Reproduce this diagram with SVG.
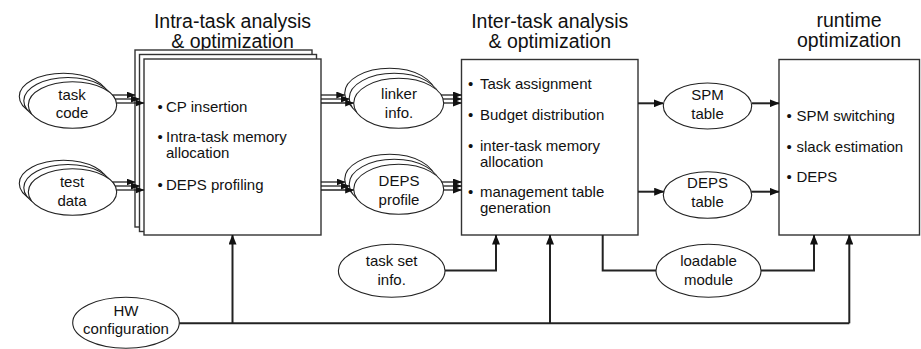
<svg xmlns="http://www.w3.org/2000/svg" width="921" height="349" viewBox="0 0 921 349">
<style>
.box{fill:#fff;stroke:#333;stroke-width:1.4}
.ell{fill:#fff;stroke:#222;stroke-width:1.1}
.t{font-family:"Liberation Sans",Arial,sans-serif;font-size:15px;fill:#111}
.ti{font-family:"Liberation Sans",Arial,sans-serif;font-size:19.5px;fill:#111;text-anchor:middle}
.c{text-anchor:middle}
.conn{fill:none;stroke:#222;stroke-width:2}
.thin{fill:none;stroke:#222;stroke-width:1.3}
</style>
<defs>
<marker id="ah" viewBox="0 0 10 8" refX="9.5" refY="4" markerWidth="10" markerHeight="8" markerUnits="userSpaceOnUse" orient="auto"><path d="M0,0L10,4L0,8z" fill="#111"/></marker>
<marker id="ahs" viewBox="0 0 9 7" refX="8.5" refY="3.5" markerWidth="9" markerHeight="7" markerUnits="userSpaceOnUse" orient="auto"><path d="M0,0L9,3.5L0,7z" fill="#111"/></marker>
</defs>

<g id="intra">
<text class="ti" x="232.5" y="27.5">Intra-task analysis</text>
<text class="ti" x="232.5" y="47.5">&amp; optimization</text>
<rect class="box" x="135" y="50" width="177" height="177"/>
<rect class="box" x="139.5" y="54.5" width="177" height="177"/>
<rect class="box" x="144" y="59" width="177" height="176"/>
<text class="t" x="157.5" y="111.5">•</text><text class="t" x="166" y="111.5">CP insertion</text>
<text class="t" x="157.5" y="142">•</text><text class="t" x="166" y="142">Intra-task memory</text>
<text class="t" x="166" y="158">allocation</text>
<text class="t" x="157.5" y="189.5">•</text><text class="t" x="166" y="189.5">DEPS profiling</text>
</g>

<g id="inter">
<text class="ti" x="549.75" y="27.5">Inter-task analysis</text>
<text class="ti" x="549.75" y="47.5">&amp; optimization</text>
<rect class="box" x="461.5" y="59.5" width="176.5" height="175.5"/>
<text class="t" x="468" y="89">•</text><text class="t" x="480" y="89">Task assignment</text>
<text class="t" x="468" y="120">•</text><text class="t" x="480" y="120">Budget distribution</text>
<text class="t" x="468" y="151">•</text><text class="t" x="480" y="151">inter-task memory</text>
<text class="t" x="480" y="166.5">allocation</text>
<text class="t" x="468" y="196.5">•</text><text class="t" x="480" y="196.5">management table</text>
<text class="t" x="480" y="212.5">generation</text>
</g>

<g id="runtime">
<text class="ti" x="849" y="26.5">runtime</text>
<text class="ti" x="849" y="46.5">optimization</text>
<rect class="box" x="779" y="59.5" width="140.5" height="175.5"/>
<text class="t" x="786.5" y="121">•</text><text class="t" x="796.5" y="121">SPM switching</text>
<text class="t" x="786.5" y="151.5">•</text><text class="t" x="796.5" y="151.5">slack estimation</text>
<text class="t" x="786.5" y="181.5">•</text><text class="t" x="796.5" y="181.5">DEPS</text>
</g>

<g id="task-code">
<ellipse class="ell" cx="63.5" cy="96.5" rx="44.2" ry="23.3"/>
<ellipse class="ell" cx="68" cy="100.75" rx="44.2" ry="23.3"/>
<ellipse class="ell" cx="72.5" cy="105" rx="44.2" ry="23.3"/>
<text class="t c" x="72" y="99.5">task</text>
<text class="t c" x="72" y="118">code</text>
</g>

<g id="test-data">
<ellipse class="ell" cx="63.5" cy="183.5" rx="44.2" ry="23.3"/>
<ellipse class="ell" cx="68" cy="187.75" rx="44.2" ry="23.3"/>
<ellipse class="ell" cx="72.5" cy="192" rx="44.2" ry="23.3"/>
<text class="t c" x="72" y="187">test</text>
<text class="t c" x="72" y="205.5">data</text>
</g>

<g id="linker-info">
<ellipse class="ell" cx="389.7" cy="93.3" rx="45" ry="25"/>
<ellipse class="ell" cx="394.2" cy="98.3" rx="45" ry="25"/>
<ellipse class="ell" cx="398.7" cy="103.3" rx="45" ry="25"/>
<text class="t c" x="399" y="99">linker</text>
<text class="t c" x="399" y="118">info.</text>
</g>

<g id="deps-profile">
<ellipse class="ell" cx="389.7" cy="179.3" rx="45" ry="25"/>
<ellipse class="ell" cx="394.2" cy="184.3" rx="45" ry="25"/>
<ellipse class="ell" cx="398.7" cy="189.3" rx="45" ry="25"/>
<text class="t c" x="399" y="186">DEPS</text>
<text class="t c" x="399" y="205">profile</text>
</g>

<g id="spm-table">
<ellipse class="ell" cx="707.5" cy="106" rx="44.2" ry="23"/>
<text class="t c" x="707.5" y="99.5">SPM</text>
<text class="t c" x="707.5" y="118.5">table</text>
</g>

<g id="deps-table">
<ellipse class="ell" cx="707.5" cy="195" rx="44.2" ry="23.3"/>
<text class="t c" x="707.5" y="188">DEPS</text>
<text class="t c" x="707.5" y="207">table</text>
</g>

<g id="task-set-info">
<ellipse class="ell" cx="391.7" cy="270.8" rx="53.3" ry="26.5"/>
<text class="t c" x="391.7" y="266">task set</text>
<text class="t c" x="391.7" y="284.5">info.</text>
</g>

<g id="loadable-module">
<ellipse class="ell" cx="708.5" cy="270.8" rx="52.5" ry="26.5"/>
<text class="t c" x="708.5" y="266">loadable</text>
<text class="t c" x="708.5" y="284.5">module</text>
</g>

<g id="hw-configuration">
<ellipse class="ell" cx="126" cy="322.8" rx="53.3" ry="25.5"/>
<text class="t c" x="126" y="315.5">HW</text>
<text class="t c" x="126" y="333.5">configuration</text>
</g>

<g id="connectors">
<path class="thin" marker-end="url(#ahs)" d="M112.4,95H135"/>
<path class="thin" marker-end="url(#ahs)" d="M115.2,99H139.5"/>
<path class="thin" marker-end="url(#ahs)" d="M116.5,103H144"/>
<path class="thin" marker-end="url(#ahs)" d="M112.4,182H135"/>
<path class="thin" marker-end="url(#ahs)" d="M115.2,186H139.5"/>
<path class="thin" marker-end="url(#ahs)" d="M116.5,190H144"/>
<path class="thin" marker-end="url(#ahs)" d="M321,95H344.8"/>
<path class="thin" marker-end="url(#ahs)" d="M321,99H349.2"/>
<path class="thin" marker-end="url(#ahs)" d="M321,103H353.7"/>
<path class="thin" marker-end="url(#ahs)" d="M321,182H345"/>
<path class="thin" marker-end="url(#ahs)" d="M321,186H349.2"/>
<path class="thin" marker-end="url(#ahs)" d="M321,190H353.7"/>
<path class="thin" marker-end="url(#ahs)" d="M441.1,95H461.5"/>
<path class="thin" marker-end="url(#ahs)" d="M443,99H461.5"/>
<path class="thin" marker-end="url(#ahs)" d="M443.7,103H461.5"/>
<path class="thin" marker-end="url(#ahs)" d="M441.7,182H461.5"/>
<path class="thin" marker-end="url(#ahs)" d="M443.3,186H461.5"/>
<path class="thin" marker-end="url(#ahs)" d="M443.7,190H461.5"/>
<path class="conn" marker-end="url(#ah)" d="M638,103.3H663.3"/>
<path class="conn" marker-end="url(#ah)" d="M751.7,103.3H779"/>
<path class="conn" marker-end="url(#ah)" d="M638,191.7H663.7"/>
<path class="conn" marker-end="url(#ah)" d="M751.3,191.7H779"/>
<path class="conn" d="M179.3,323.3H849.3"/>
<path class="conn" marker-end="url(#ah)" d="M232.5,323.3V235"/>
<path class="conn" marker-end="url(#ah)" d="M550,323.3V235"/>
<path class="conn" marker-end="url(#ah)" d="M849.3,323.3V235"/>
<path class="conn" marker-end="url(#ah)" d="M445,270.5H496V235"/>
<path class="conn" d="M602.7,235V270.5H656"/>
<path class="conn" marker-end="url(#ah)" d="M761,270.5H814V235"/>
</g>
</svg>
